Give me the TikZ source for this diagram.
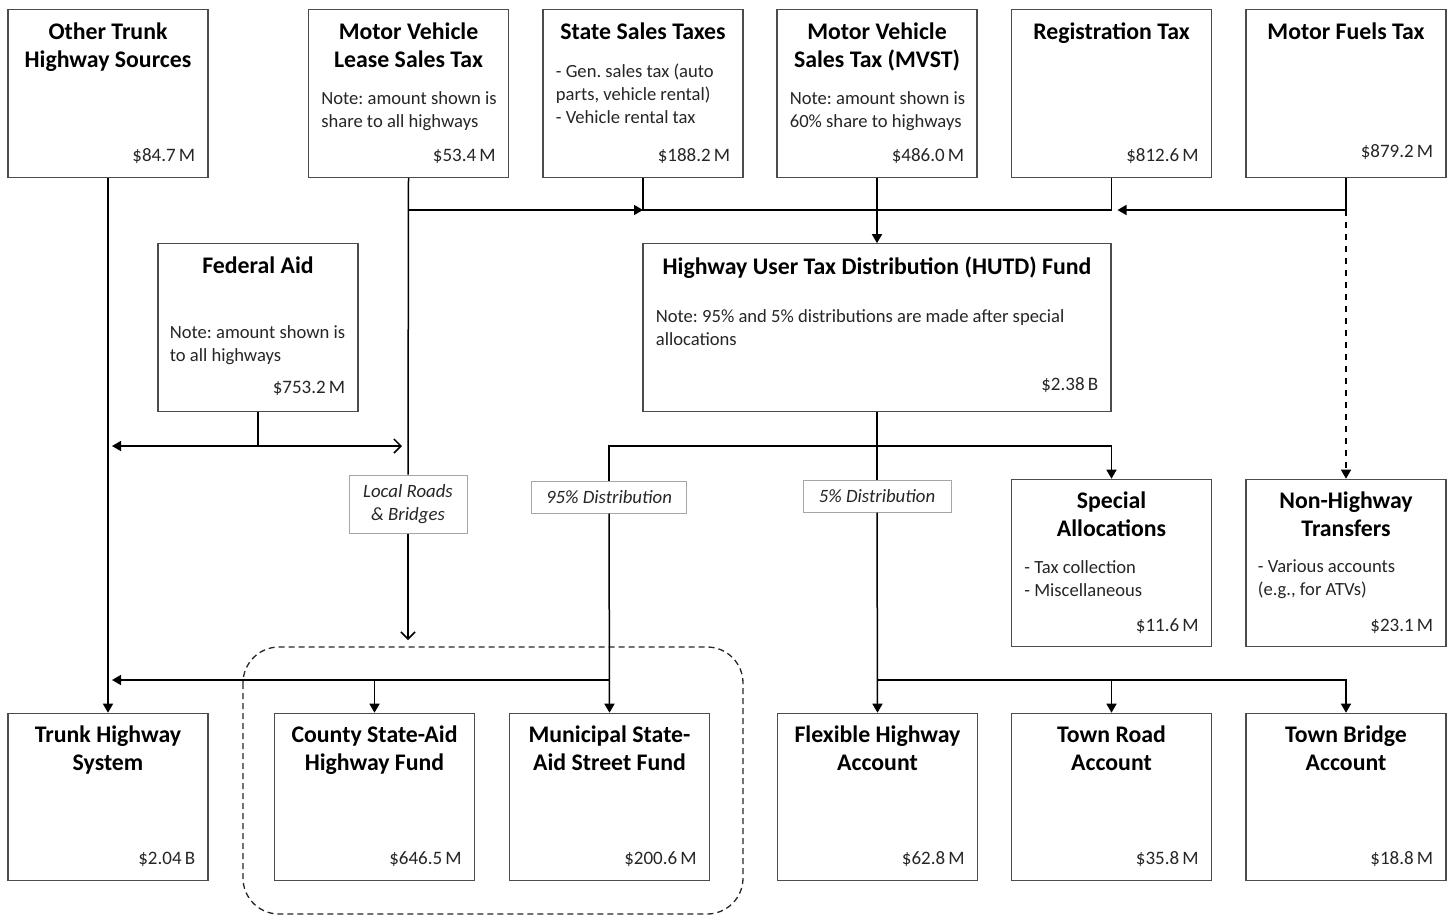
\documentclass[tikz,border=0pt]{standalone}
\usepackage{fontspec}
\setmainfont{Carlito}
\frenchspacing
\usetikzlibrary{arrows.meta,calc}
\begin{document}
\begin{tikzpicture}[x=0.5pt,y=-0.5pt,
  box/.style={draw=black!70, line width=0.55pt, fill=white, minimum width=100pt, minimum height=83.75pt, inner sep=0pt},
  ttl/.style={font=\bfseries\fontsize{11.9}{14}\selectfont, align=center, anchor=north, inner sep=0pt},
  note/.style={font=\fontsize{9.3}{11.5}\selectfont, text=black!85, align=left, anchor=north west, inner sep=0pt},
  amt/.style={font=\fontsize{9.5}{11}\selectfont, text=black!85, anchor=base east, inner sep=0pt},
  lab/.style={draw=black!35, line width=0.5pt, fill=white, font=\itshape\fontsize{9.4}{11.5}\selectfont, text=black!85, align=center, inner sep=0pt},
  con/.style={line width=0.75pt, black},
  arr/.style={con, -{Triangle[length=4.5pt,width=5pt]}},
  oarr/.style={con, -{Straight Barb[length=3.5pt,width=7pt]}}
]
\useasboundingbox (0,0) rectangle (1450,916);

% boxes
\node[box] (ots) at (108,93.5) {};
\node[box] (mvl) at (408.5,93.5) {};
\node[box] (sst) at (643,93.5) {};
\node[box] (mvst) at (877,93.5) {};
\node[box] (reg) at (1111.5,93.5) {};
\node[box] (mft) at (1346,93.5) {};
\node[box] (fed) at (258,327.5) {};
\node[box, minimum width=234pt] (hutd) at (877,327.5) {};
\node[box] (spa) at (1111.5,563) {};
\node[box] (nht) at (1346,563) {};
\node[box] (ths) at (108,797) {};
\node[box] (csa) at (374.5,797) {};
\node[box] (msa) at (609.5,797) {};
\node[box] (fha) at (877.5,797) {};
\node[box] (tra) at (1111.5,797) {};
\node[box] (tba) at (1346,797) {};

% titles
\foreach \n/\t in {ots/{Other Trunk\\Highway Sources}, mvl/{Motor Vehicle\\Lease Sales Tax}, sst/{State Sales Taxes}, mvst/{Motor Vehicle\\Sales Tax (MVST)}, reg/{Registration Tax}, mft/{Motor Fuels Tax}, fed/{Federal Aid}, hutd/{Highway User Tax Distribution (HUTD) Fund}, spa/{Special\\Allocations}, nht/{Non-Highway\\Transfers}, ths/{Trunk Highway\\System}, csa/{County State-Aid\\Highway Fund}, msa/{Municipal State-\\Aid Street Fund}, fha/{Flexible Highway\\Account}, tra/{Town Road\\Account}, tba/{Town Bridge\\Account}}
  \node[ttl] (\n-t) at ([yshift=-6.5pt]\n.north) {\t};

% notes
\node[note] (mvl-n) at ([xshift=6.5pt,yshift=-40.75pt]mvl.north west) {Note: amount shown is\\share to all highways};
\node[note] (sst-n) at ([xshift=6.5pt,yshift=-27pt]sst.north west) {- Gen. sales tax (auto\\parts, vehicle rental)\\- Vehicle rental tax};
\node[note] (mvst-n) at ([xshift=6.5pt,yshift=-40.75pt]mvst.north west) {Note: amount shown is\\60\% share to highways};
\node[note] (fed-n) at ([xshift=6pt,yshift=-40.75pt]fed.north west) {Note: amount shown is\\to all highways};
\node[note] (hutd-n) at ([xshift=6.5pt,yshift=-32.75pt]hutd.north west) {Note: 95\% and 5\% distributions are made after special\\allocations};
\node[note] (spa-n) at ([xshift=6.5pt,yshift=-40.5pt]spa.north west) {- Tax collection\\- Miscellaneous};
\node[note] (nht-n) at ([xshift=6pt,yshift=-40.5pt]nht.north west) {- Various accounts\\(e.g., for ATVs)};

% amounts
\foreach \n/\a in {ots/84.7\,M, mvl/53.4\,M, sst/188.2\,M, mvst/486.0\,M, reg/812.6\,M, spa/11.6\,M, nht/23.1\,M}
  \node[amt] (\n-a) at ([xshift=-6.5pt,yshift=8pt]\n.south east) {\$\a};
\foreach \n/\a in {ths/2.04\,B, csa/646.5\,M, msa/200.6\,M, fha/62.8\,M, tra/35.8\,M, tba/18.8\,M}
  \node[amt] (\n-a) at ([xshift=-6.5pt,yshift=8.5pt]\n.south east) {\$\a};
\node[amt] (mft-a) at ([xshift=-6.5pt,yshift=10pt]mft.south east) {\$879.2\,M};
\node[amt] (fed-a) at ([xshift=-6.5pt,yshift=9pt]fed.south east) {\$753.2\,M};
\node[amt] (hutd-a) at ([xshift=-6.5pt,yshift=10.5pt]hutd.south east) {\$2.38\,B};

% junction coordinates
\coordinate (j1) at (408,210);
\coordinate (fj) at (258,446);
\coordinate (fr) at (402,446);
\coordinate (hj) at (877,446);
\coordinate (lr) at (408,640);
\coordinate (bj) at (609,680);
\coordinate (fj2) at (877,680);

% labels
\node[lab, minimum width=59pt, minimum height=29pt] (loc) at (408,504) {Local Roads\\\& Bridges};
\node[lab, minimum width=77.5pt, minimum height=16pt] (l95) at (609,497) {95\% Distribution};
\node[lab, minimum width=74pt, minimum height=16pt] (l5) at (877,496) {5\% Distribution};

% group outline
\draw[black!85, line width=0.65pt, dash pattern=on 3pt off 2pt, rounded corners=18pt] (243,647) rectangle (743,914);

% connectors
\draw[arr] (ots.south) -- (ths.north);
\draw[con] (mvl.south) -- (loc.north);
\draw[oarr] (loc.south) -- (lr);
\draw[arr] (j1) -- (sst.south |- j1);
\draw[con] (sst.south) -- (sst.south |- j1) -- (reg.south |- j1) -- (reg.south);
\draw[arr] (mvst.south) -- (hutd.north);
\draw[arr] (mft.south) |- ($(reg.south |- j1)+(6,0)$);
\draw[arr, dashed] (mft.south |- j1) -- (nht.north);
\draw[con] (fed.south) -- (fj);
\draw[arr] (fj) -- ($(ots.south |- fj)+(4,0)$);
\draw[oarr] (fj) -- (fr);
\draw[con] (hutd.south) -- (hj);
\draw[arr] (hj) -| (spa.north);
\draw[con] (hj) -| (l95.north);
\draw[con] (hj) -- (l5.north);
\draw[arr] (l95.south) -- (msa.north);
\draw[arr] (l5.south) -- (fha.north);
\draw[arr] (bj) -- ($(ths.north |- bj)+(4,0)$);
\draw[arr] (csa.north |- bj) -- (csa.north);
\draw[arr] (fj2) -| (tra.north);
\draw[arr] (fj2) -| (tba.north);
\end{tikzpicture}
\end{document}
